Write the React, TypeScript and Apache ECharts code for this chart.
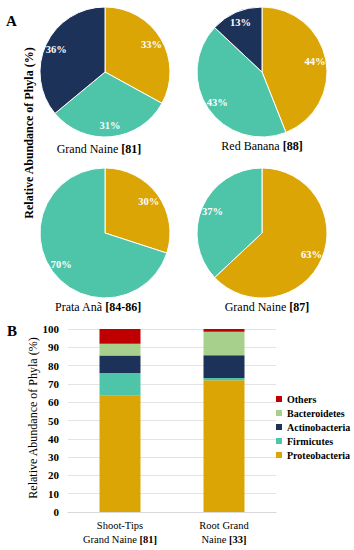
import React, { useEffect, useRef } from "react";
import * as echarts from "echarts";

const pieNames = ["Proteobacteria", "Firmicutes", "Actinobacteria"];
const pie1 = [33, 31, 36];
const pie2 = [44, 43, 13];
const pie3 = [30, 70];
const pie4 = [63, 37];
const pieCaptions = [
  ["Grand Naine ", "[81]"],
  ["Red Banana ", "[88]"],
  ["Prata Anã ", "[84-86]"],
  ["Grand Naine ", "[87]"],
];

const barCategories = [
  ["Shoot-Tips", "Grand Naine ", "[81]"],
  ["Root Grand", "Naine ", "[33]"],
];
const proteobacteria = [63.5, 72];
const firmicutes = [12.5, 1.2];
const actinobacteria = [9.5, 12.4];
const bacteroidetes = [6.5, 12.9];
const others = [8, 1.5];
const yTicks = [0, 100, 10];

const COLORS: Record<string, string> = {
  Proteobacteria: "#DBA506",
  Firmicutes: "#4EC4A9",
  Actinobacteria: "#1D3259",
  Bacteroidetes: "#A8D08D",
  Others: "#C00000",
};

const SERIF = "Liberation Serif";

export default function App() {
  const ref = useRef<HTMLDivElement>(null);
  useEffect(() => {
    if (!ref.current) return;
    const chart = echarts.init(ref.current, undefined, { renderer: "svg" });

    const pies = [pie1, pie2, pie3, pie4];
    const centers = [
      [105, 72],
      [262, 72],
      [105, 233],
      [262, 233],
    ];
    const pieSeries: any[] = [];
    pies.forEach((vals, i) => {
      const data = vals.map((v, j) => ({
        name: pieNames[j],
        value: v,
        itemStyle: { color: COLORS[pieNames[j]] },
      }));
      pieSeries.push({
        type: "pie",
        center: centers[i],
        radius: 65,
        startAngle: 90,
        clockwise: true,
        silent: true,
        label: { show: false },
        labelLine: { show: false },
        itemStyle: { borderColor: "#ffffff", borderWidth: 1 },
        data,
      });
      pieSeries.push({
        type: "pie",
        center: centers[i],
        radius: [38, 64],
        startAngle: 90,
        clockwise: true,
        silent: true,
        labelLine: { show: false },
        itemStyle: { color: "transparent" },
        label: {
          show: true,
          position: "inside",
          formatter: "{c}%",
          color: "#ffffff",
          fontFamily: SERIF,
          fontWeight: "bold",
          fontSize: 10.5,
        },
        data: vals.map((v, j) => ({ name: pieNames[j] + "_l", value: v })),
      });
    });

    const captionPos = [
      [99, 149],
      [262, 146],
      [98, 307],
      [267, 307],
    ];
    const captionGraphics = pieCaptions.map((c, i) => ({
      type: "text",
      x: captionPos[i][0],
      y: captionPos[i][1],
      style: {
        text: `{n|${c[0]}}{b|${c[1]}}`,
        fontFamily: SERIF,
        fontSize: 12,
        align: "center",
        verticalAlign: "middle",
        rich: {
          n: { fontFamily: SERIF, fontSize: 12, fill: "#000" },
          b: { fontFamily: SERIF, fontSize: 12, fontWeight: "bold", fill: "#000" },
        },
      },
    }));

    const stackNames = ["Proteobacteria", "Firmicutes", "Actinobacteria", "Bacteroidetes", "Others"];
    const stackData = [proteobacteria, firmicutes, actinobacteria, bacteroidetes, others];
    const barSeries = stackNames.map((n, i) => ({
      type: "bar",
      name: n,
      stack: "total",
      barWidth: 41,
      data: stackData[i],
      itemStyle: { color: COLORS[n] },
      xAxisIndex: 0,
      yAxisIndex: 0,
    }));

    chart.setOption({
      animation: false,
      backgroundColor: "#ffffff",
      textStyle: { fontFamily: SERIF },
      grid: { left: 68, right: 78, top: 329, bottom: 38 },
      legend: {
        orient: "vertical",
        left: 276,
        top: 394,
        padding: 0,
        itemWidth: 6,
        itemHeight: 6,
        itemGap: 4,
        icon: "rect",
        selectedMode: false,
        data: ["Others", "Bacteroidetes", "Actinobacteria", "Firmicutes", "Proteobacteria"],
        textStyle: { fontFamily: SERIF, fontWeight: "bold", fontSize: 10, color: "#000" },
      },
      xAxis: {
        type: "category",
        data: barCategories.map((c) => `${c[0]}\n${c[1]}{b|${c[2]}}`),
        axisTick: { show: false },
        axisLine: { lineStyle: { color: "#d9d9d9" } },
        axisLabel: {
          interval: 0,
          fontFamily: SERIF,
          fontSize: 10.5,
          color: "#000",
          lineHeight: 14,
          margin: 6,
          rich: { b: { fontFamily: SERIF, fontSize: 10.5, fontWeight: "bold", color: "#000", lineHeight: 14 } },
        },
      },
      yAxis: {
        type: "value",
        min: yTicks[0],
        max: yTicks[1],
        interval: yTicks[2],
        axisLine: { show: false },
        axisTick: { show: false },
        splitLine: { lineStyle: { color: "#e3e3e3" } },
        axisLabel: { fontFamily: SERIF, fontSize: 11, fontWeight: "bold", color: "#000", margin: 9 },
      },
      series: [...pieSeries, ...barSeries],
      graphic: [
        {
          type: "text",
          x: 6,
          y: 21,
          style: { text: "A", fontFamily: SERIF, fontSize: 15, fontWeight: "bold", fill: "#000", verticalAlign: "middle" },
        },
        {
          type: "text",
          x: 7,
          y: 331,
          style: { text: "B", fontFamily: SERIF, fontSize: 15, fontWeight: "bold", fill: "#000", verticalAlign: "middle" },
        },
        {
          type: "text",
          x: 29,
          y: 133,
          rotation: Math.PI / 2,
          style: {
            text: "Relative Abundance of Phyla (%)",
            fontFamily: SERIF,
            fontSize: 12,
            fontWeight: "bold",
            fill: "#000",
            align: "center",
            verticalAlign: "middle",
          },
        },
        {
          type: "text",
          x: 33,
          y: 418,
          rotation: Math.PI / 2,
          style: {
            text: "Relative Abundance of Phyla (%)",
            fontFamily: SERIF,
            fontSize: 12,
            fill: "#000",
            align: "center",
            verticalAlign: "middle",
          },
        },
        ...captionGraphics,
      ],
    });
    return () => chart.dispose();
  }, []);
  return (
    <div
      ref={ref}
      style={{ position: "fixed", left: 0, top: 0, width: 354, height: 550, background: "#fff" }}
    />
  );
}
